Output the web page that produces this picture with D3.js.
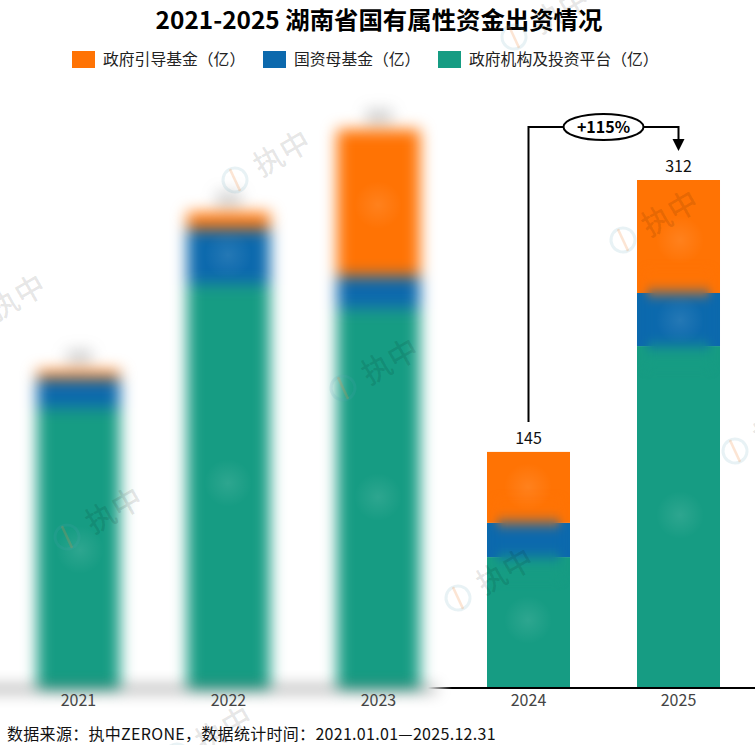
<!DOCTYPE html>
<html>
<head>
<meta charset="utf-8">
<script src="https://cdn.jsdelivr.net/npm/d3@7"></script>
<style>
  html, body { margin: 0; padding: 0; background: #fff; }
  svg { display: block; }
  text { font-family: "Noto Sans CJK SC", "Noto Sans", sans-serif; }
</style>
</head>
<body>
<div id="chart"></div>
<script>
// values (2021-2023 are blurred in the source, so estimates)
const years = ["2021", "2022", "2023", "2024", "2025"];
const guide = [5, 10, 90, 43.6, 69.4];
const parent = [18, 34, 20, 21, 32.6];
const platform = [172, 248, 233, 80.4, 210];
const seriesNames = ["政府引导基金\uFF08亿\uFF09", "国资母基金\uFF08亿\uFF09", "政府机构及投资平台\uFF08亿\uFF09"];
const seriesColors = ["#ff7304", "#0c69ad", "#169c83"];
const legendX = [72, 263, 438];
const blurredYears = ["2021", "2022", "2023"];
const clearYears = ["2024", "2025"];
const growthLabel = "+115%";
const footnote = "数据来源\uFF1A执中ZERONE\uFF0C数据统计时间\uFF1A2021.01.01—2025.12.31";

// watermark stamps [logo x, logo y] and the soft light spots left on the bars
const stamps = [[235, 180], [623, 240], [458, 598], [735, 451], [67, 537], [343, 388], [-30, 324], [177, 756], [514, 37]];
const spots = [[378, 205], [228, 255], [228, 483], [378, 497], [80, 550], [528, 487], [528, 620], [680, 240], [680, 320], [680, 515]];

const width = 755, height = 745;
const svg = d3.select("#chart").append("svg").attr("width", width).attr("height", height);
const defs = svg.append("defs");

const x = d3.scaleBand().domain(years).range([3.5, 753.5]).paddingInner(0.4467).paddingOuter(0.2233);
const y = d3.scaleLinear().domain([0, 312]).range([688, 180]);

// stack from the bottom: platform, parent fund, guide fund
const rows = years.map((year, i) => ({ year: year, guide: guide[i], parent: parent[i], platform: platform[i] }));
const stack = d3.stack().keys(["platform", "parent", "guide"])(rows);
const stackColor = { platform: seriesColors[2], parent: seriesColors[1], guide: seriesColors[0] };
const totals = new Map(rows.map(d => [d.year, Math.round(d.guide + d.parent + d.platform)]));

function drawBars(g, keep) {
    stack.forEach(layer => {
        g.append("g").attr("fill", stackColor[layer.key])
            .selectAll("rect")
            .data(layer.filter(d => keep.includes(d.data.year)))
            .join("rect")
            .attr("x", d => x(d.data.year))
            .attr("width", x.bandwidth())
            .attr("y", d => y(d[1]))
            .attr("height", d => y(d[0]) - y(d[1]));
    });
}

function totalLabels(g, keep, color) {
    g.selectAll("text")
        .data(keep)
        .join("text")
        .attr("x", d => x(d) + x.bandwidth() / 2)
        .attr("y", d => y(totals.get(d)) - 8)
        .attr("text-anchor", "middle")
        .attr("font-size", 16)
        .attr("fill", color)
        .text(d => totals.get(d));
}

// filters and paint servers
function addBlur(id, std, region) {
    defs.append("filter").attr("id", id).attr("filterUnits", "userSpaceOnUse")
        .attr("color-interpolation-filters", "sRGB")
        .attr("x", region[0]).attr("y", region[1]).attr("width", region[2]).attr("height", region[3])
        .append("feGaussianBlur").attr("stdDeviation", std);
}
addBlur("blur", 7.5, [-40, 50, 510, 710]);
addBlur("patchBlur", 7, [440, 150, 315, 560]);
addBlur("maskBlur", 5, [440, 150, 315, 560]);

const fade = defs.append("linearGradient").attr("id", "axisFade")
    .attr("gradientUnits", "userSpaceOnUse").attr("x1", 428).attr("x2", 452).attr("y1", 0).attr("y2", 0);
fade.append("stop").attr("offset", 0).attr("stop-color", "#000").attr("stop-opacity", 0);
fade.append("stop").attr("offset", 1).attr("stop-color", "#000").attr("stop-opacity", 1);

const glow = defs.append("radialGradient").attr("id", "glow");
glow.append("stop").attr("offset", 0).attr("stop-color", "#fff").attr("stop-opacity", 0.1);
glow.append("stop").attr("offset", 0.5).attr("stop-color", "#fff").attr("stop-opacity", 0.05);
glow.append("stop").attr("offset", 1).attr("stop-color", "#fff").attr("stop-opacity", 0);

// the blurred part: 2021-2023 with its labels and the axis line
const blurred = svg.append("g").attr("filter", "url(#blur)");
blurred.append("line").attr("x1", -30).attr("x2", 436).attr("y1", y(0) + 1).attr("y2", y(0) + 1)
    .attr("stroke", "#000").attr("stroke-width", 2.5);
drawBars(blurred, blurredYears);
totalLabels(blurred.append("g"), blurredYears, "#555");

// the sharp part: 2024-2025
const sharp = svg.append("g");
drawBars(sharp, clearYears);

// smeared patch in the middle of the sharp bars
const patchMask = defs.append("mask").attr("id", "patchMask")
    .attr("maskUnits", "userSpaceOnUse").attr("x", 440).attr("y", 150).attr("width", 315).attr("height", 560);
patchMask.append("g").attr("filter", "url(#maskBlur)").selectAll("rect")
    .data(rows.filter(d => clearYears.includes(d.year)))
    .join("rect")
    .attr("x", d => x(d.year) + 10)
    .attr("width", x.bandwidth() - 20)
    .attr("y", d => y(d.platform + d.parent + 14))
    .attr("height", d => y(d.platform - 14) - y(d.platform + d.parent + 14))
    .attr("fill", "#fff");
const patch = svg.append("g").attr("mask", "url(#patchMask)").append("g").attr("filter", "url(#patchBlur)");
drawBars(patch, clearYears);

// light spots
svg.append("g").selectAll("circle")
    .data(spots)
    .join("circle")
    .attr("cx", d => d[0]).attr("cy", d => d[1]).attr("r", 24)
    .attr("fill", "url(#glow)");

// sharp axis line fading in from the blur
svg.append("rect").attr("x", 428).attr("width", width - 428).attr("y", y(0) - 1).attr("height", 2)
    .attr("fill", "url(#axisFade)");

// year labels
const xAxis = svg.append("g").attr("transform", `translate(0,${y(0)})`)
    .call(d3.axisBottom(x).tickSize(0).tickPadding(7));
xAxis.select(".domain").remove();
xAxis.selectAll("text").attr("font-size", 16).attr("font-family", '"Noto Sans CJK SC"').attr("fill", "#444");

// value labels of the open years
totalLabels(svg.append("g"), clearYears, "#111");

// growth bracket from 2024 to 2025
const x24 = x("2024") + x.bandwidth() / 2;
const x25 = x("2025") + x.bandwidth() / 2;
const bracketY = 127;
svg.append("path")
    .attr("d", `M${x24},${y(totals.get("2024")) - 30}V${bracketY}H${x25}V${bracketY + 14}`)
    .attr("fill", "none").attr("stroke", "#000").attr("stroke-width", 2);
svg.append("path")
    .attr("d", `M${x25 - 6},${bracketY + 12}H${x25 + 6}L${x25},${bracketY + 24}Z`)
    .attr("fill", "#000");
svg.append("ellipse")
    .attr("cx", (x24 + x25) / 2).attr("cy", bracketY).attr("rx", 40).attr("ry", 13)
    .attr("fill", "#fff").attr("stroke", "#000").attr("stroke-width", 2);
svg.append("text")
    .attr("x", (x24 + x25) / 2).attr("y", bracketY + 5.5)
    .attr("text-anchor", "middle").attr("font-size", 16).attr("font-weight", 700).attr("fill", "#000")
    .text(growthLabel);

// title, legend, footnote
svg.append("text").attr("x", 379).attr("y", 29).attr("text-anchor", "middle")
    .attr("font-size", 24.4).attr("font-weight", 700).attr("fill", "#000")
    .text("2021-2025 湖南省国有属性资金出资情况");

const legend = svg.append("g").selectAll("g")
    .data(seriesNames)
    .join("g")
    .attr("transform", (d, i) => `translate(${legendX[i]},51)`);
legend.append("rect").attr("width", 23).attr("height", 17).attr("fill", (d, i) => seriesColors[i]);
legend.append("text").attr("x", 31).attr("y", 14).attr("font-size", 15.8).attr("fill", "#222").text(d => d);

svg.append("text").attr("x", 7).attr("y", 740).attr("font-size", 16).attr("letter-spacing", 0.3)
    .attr("fill", "#111").text(footnote);

// watermark stamps on top of everything
const stamp = svg.append("g").selectAll("g")
    .data(stamps)
    .join("g")
    .attr("transform", d => `translate(${d[0]},${d[1]}) rotate(-30)`);
stamp.append("circle").attr("r", 12).attr("fill", "none")
    .attr("stroke", "#5aa6b8").attr("stroke-opacity", 0.14).attr("stroke-width", 3);
stamp.append("line").attr("x1", 0).attr("x2", 0).attr("y1", -12).attr("y2", 12)
    .attr("transform", "rotate(5)")
    .attr("stroke", "#f08a3c").attr("stroke-opacity", 0.22).attr("stroke-width", 2.5);
stamp.append("text").attr("x", 24).attr("y", 11).attr("font-size", 30).attr("font-weight", 500)
    .attr("fill", "#000").attr("fill-opacity", 0.1).text("执中");
</script>
</body>
</html>
